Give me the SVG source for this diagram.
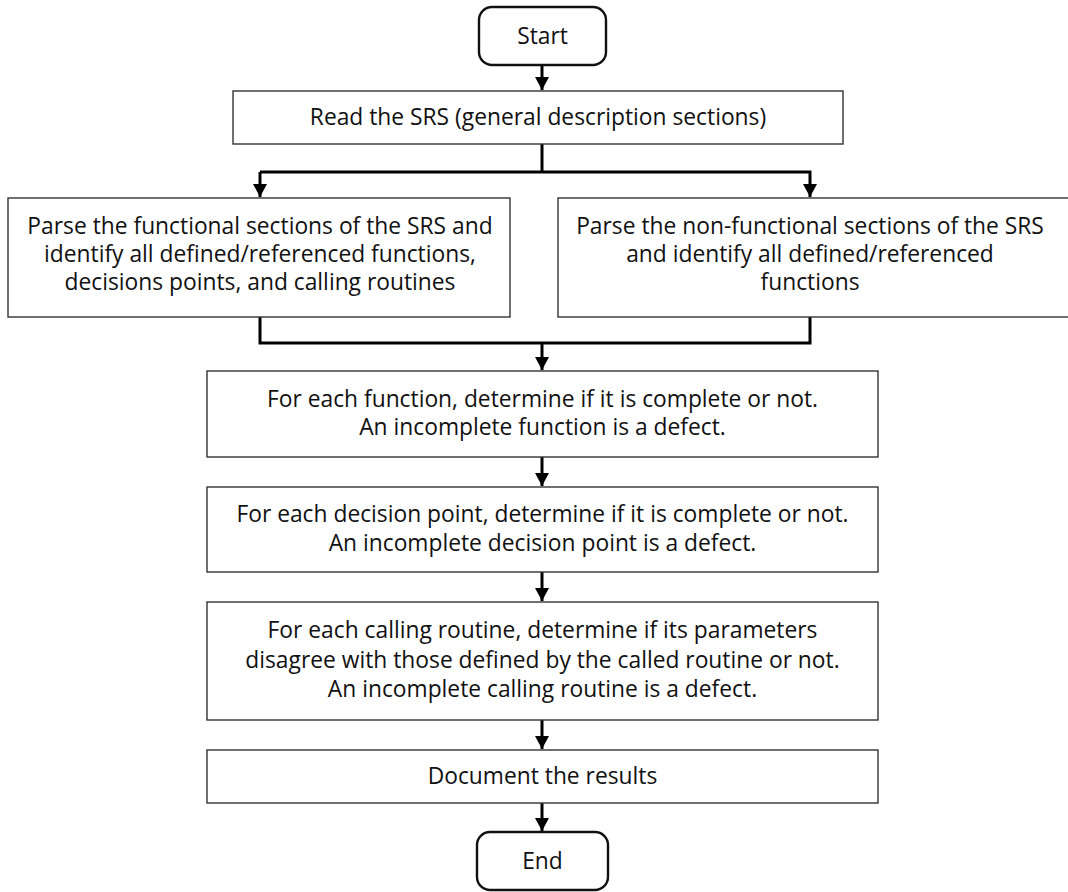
<svg xmlns="http://www.w3.org/2000/svg" width="1068" height="892" viewBox="0 0 1068 892">
  <style>
    .box { fill: #ffffff; stroke: #333333; stroke-width: 1.4; }
    .term { fill: #ffffff; stroke: #111111; stroke-width: 2.4; }
    .lbl { font-family: "Open Sans", "Noto Sans", sans-serif; font-size: 22.8px; fill: #111111; text-anchor: middle; }
    .wire { fill: none; stroke: #000000; stroke-width: 3; }
  </style>
  <defs>
    <marker id="arrow" markerUnits="userSpaceOnUse" markerWidth="14" markerHeight="14" refX="13" refY="7" orient="auto">
      <path d="M0,0 L13,7 L0,14 z" fill="#000000"/>
    </marker>
  </defs>
  <rect width="1068" height="892" fill="#ffffff"/>

  <!-- connectors -->
  <g id="connectors">
    <line class="wire" x1="542" y1="65" x2="542" y2="90" marker-end="url(#arrow)"/>
    <polyline class="wire" points="542,144 542,172"/>
    <polyline class="wire" points="260,172 810,172 810,197" marker-end="url(#arrow)"/>
    <line class="wire" x1="260" y1="172" x2="260" y2="197" marker-end="url(#arrow)"/>
    <polyline class="wire" points="260,317 260,343 810,343 810,317"/>
    <line class="wire" x1="542" y1="343" x2="542" y2="370" marker-end="url(#arrow)"/>
    <line class="wire" x1="542" y1="457" x2="542" y2="486" marker-end="url(#arrow)"/>
    <line class="wire" x1="542" y1="572" x2="542" y2="601" marker-end="url(#arrow)"/>
    <line class="wire" x1="542" y1="720" x2="542" y2="749" marker-end="url(#arrow)"/>
    <line class="wire" x1="542" y1="803" x2="542" y2="831" marker-end="url(#arrow)"/>
  </g>

  <g id="start">
    <rect class="term" x="479" y="7" width="127" height="58" rx="13"/>
    <text class="lbl" x="542.5" y="44">Start</text>
  </g>

  <g id="read-srs">
    <rect class="box" x="233" y="91" width="610" height="53"/>
    <text class="lbl" x="538" y="125">Read the SRS (general description sections)</text>
  </g>

  <g id="parse-functional">
    <rect class="box" x="8" y="198" width="502" height="119"/>
    <text class="lbl" x="260" y="234">Parse the functional sections of the SRS and</text>
    <text class="lbl" x="260" y="262">identify all defined/referenced functions,</text>
    <text class="lbl" x="260" y="290">decisions points, and calling routines</text>
  </g>

  <g id="parse-nonfunctional">
    <rect class="box" x="558" y="198" width="520" height="119"/>
    <text class="lbl" x="810" y="234">Parse the non-functional sections of the SRS</text>
    <text class="lbl" x="810" y="262">and identify all defined/referenced</text>
    <text class="lbl" x="810" y="290">functions</text>
  </g>

  <g id="check-functions">
    <rect class="box" x="207" y="371" width="671" height="86"/>
    <text class="lbl" x="542.5" y="407">For each function, determine if it is complete or not.</text>
    <text class="lbl" x="542.5" y="435">An incomplete function is a defect.</text>
  </g>

  <g id="check-decisions">
    <rect class="box" x="207" y="487" width="671" height="85"/>
    <text class="lbl" x="542.5" y="522">For each decision point, determine if it is complete or not.</text>
    <text class="lbl" x="542.5" y="551">An incomplete decision point is a defect.</text>
  </g>

  <g id="check-calls">
    <rect class="box" x="207" y="602" width="671" height="118"/>
    <text class="lbl" x="542.5" y="638">For each calling routine, determine if its parameters</text>
    <text class="lbl" x="542.5" y="668">disagree with those defined by the called routine or not.</text>
    <text class="lbl" x="542.5" y="697">An incomplete calling routine is a defect.</text>
  </g>

  <g id="document">
    <rect class="box" x="207" y="750" width="671" height="53"/>
    <text class="lbl" x="542.5" y="784">Document the results</text>
  </g>

  <g id="end">
    <rect class="term" x="477" y="832" width="131" height="58" rx="13"/>
    <text class="lbl" x="542.5" y="869">End</text>
  </g>
</svg>
